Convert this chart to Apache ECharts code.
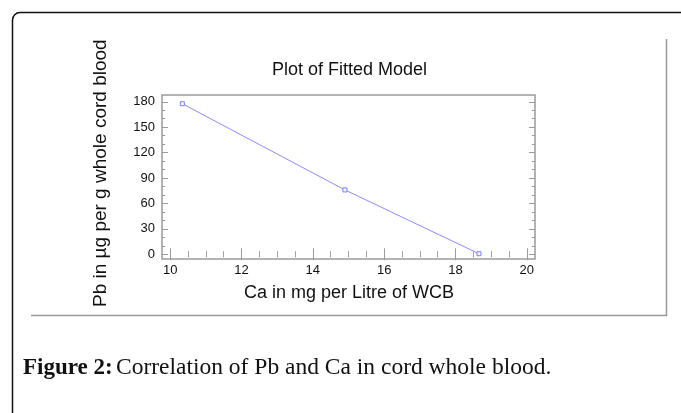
<!DOCTYPE html>
<html><head><meta charset="utf-8">
<script src="https://cdn.jsdelivr.net/npm/echarts@6/dist/echarts.min.js"></script>
<style>html,body{margin:0;padding:0;background:#fff}#c{width:681px;height:413px}</style>
</head><body><div id="c"></div>
<script>
// Data
const caValues = [10.34, 14.9, 18.66];          // Ca in mg per Litre of WCB
const pbValues = [177.7, 76, 0.7];               // Pb in µg per g whole cord blood
const xTickLabels = [10, 12, 14, 16, 18, 20];
const yTickLabels = [0, 30, 60, 90, 120, 150, 180];
const xMinorTicks = [10,10.5,11,11.5,12,12.5,13,13.5,14,14.5,15,15.5,16,16.5,17,17.5,18,18.5,19,19.5,20];
const yMinorTicks = [0,10,20,30,40,50,60,70,80,90,100,110,120,130,140,150,160,170,180];
const titleText = 'Plot of Fitted Model';
const xName = 'Ca in mg per Litre of WCB';
const yName = 'Pb in µg per g whole cord blood';

const chart = echarts.init(document.getElementById('c'), null, {renderer: 'canvas'});
const gray = '#9a9a9a';
const font = 'Liberation Sans, Arial, sans-serif';
function xAx(pos, ticks, len, labels) {
  return {
    type: 'value', position: pos, min: 9.77, max: 20.23,
    axisLine: {show: false},
    splitLine: {show: false},
    axisTick: {show: true, inside: true, length: len, customValues: ticks, lineStyle: {color: gray, width: 1}},
    axisLabel: labels ? {show: true, customValues: xTickLabels, color: '#111', fontFamily: font, fontSize: 13, margin: 5} : {show: false}
  };
}
function yAx(pos, ticks, len, labels) {
  return {
    type: 'value', position: pos, min: -5.5, max: 188,
    axisLine: {show: false},
    splitLine: {show: false},
    axisTick: {show: true, inside: true, length: len, customValues: ticks, lineStyle: {color: gray, width: 1}},
    axisLabel: labels ? {show: true, customValues: yTickLabels, color: '#111', fontFamily: font, fontSize: 13, margin: 7} : {show: false}
  };
}
const option = {
  animation: false,
  backgroundColor: '#fff',
  title: {text: titleText, left: 272, top: 61, padding: 0,
    textStyle: {fontFamily: font, fontSize: 18, fontWeight: 'normal', color: '#111'}},
  grid: {left: 162, right: 146, top: 95, bottom: 154, show: true, borderColor: gray, borderWidth: 1.5, backgroundColor: 'transparent'},
  xAxis: [xAx('bottom', xTickLabels, 6, true), xAx('bottom', xMinorTicks, 3, false), xAx('top', xTickLabels, 6, false), xAx('top', xMinorTicks, 3, false)],
  yAxis: [yAx('left', yTickLabels, 6, true), yAx('left', yMinorTicks, 3, false), yAx('right', yTickLabels, 6, false), yAx('right', yMinorTicks, 3, false)],
  series: [{
    type: 'line', xAxisIndex: 0, yAxisIndex: 0,
    data: caValues.map((v, i) => [v, pbValues[i]]),
    symbol: 'rect', symbolSize: 4,
    itemStyle: {color: '#fff', borderColor: '#7b7bf5', borderWidth: 1},
    lineStyle: {color: '#8c8cff', width: 1}
  }],
  graphic: [
    {type: 'text', x: 349, y: 284, style: {text: xName, font: '18px ' + font, fill: '#111', textAlign: 'center'}},
    {type: 'text', x: 91, y: 307, rotation: Math.PI / 2, style: {text: yName, font: '19px ' + font, fill: '#111', textVerticalAlign: 'top'}},
    {type: 'polyline', shape: {points: [[31, 315.5], [666.5, 315.5], [666.5, 39]]}, style: {stroke: '#999', lineWidth: 1.5, fill: null}},
    {type: 'line', shape: {x1: 12.5, y1: 413, x2: 12.5, y2: 20}, style: {stroke: '#111', lineWidth: 1.5}},
    {type: 'line', shape: {x1: 20, y1: 12.5, x2: 681, y2: 12.5}, style: {stroke: '#111', lineWidth: 1.5}},
    {type: 'arc', shape: {cx: 20, cy: 20, r: 7.5, startAngle: Math.PI, endAngle: Math.PI * 1.5}, style: {stroke: '#111', lineWidth: 1.5, fill: null}},
    {type: 'text', x: 23, y: 356, style: {rich: {b: {font: 'bold 23px Liberation Serif, serif', fill: '#111'}, n: {font: '23.5px Liberation Serif, serif', fill: '#111'}}, text: '{b|Figure 2:} {n|Correlation of Pb and Ca in cord whole blood.}'}}
  ]
};
chart.setOption(option);
</script></body></html>
